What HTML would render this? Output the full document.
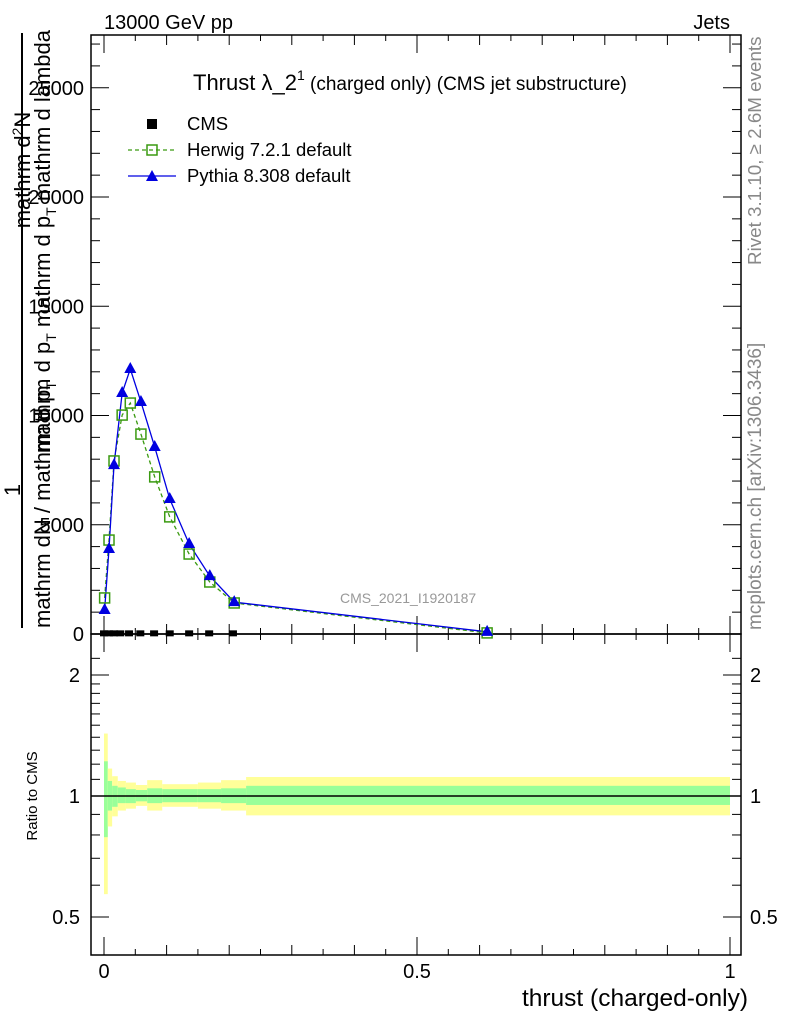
<!DOCTYPE html>
<html><head><meta charset="utf-8"><style>
body{margin:0;background:#fff;width:786px;height:1024px;overflow:hidden}
svg{font-family:"Liberation Sans",sans-serif}
</style></head><body>
<svg id="c" width="786" height="1024" viewBox="0 0 786 1024" xmlns="http://www.w3.org/2000/svg">
<text x="104" y="29" font-size="20">13000 GeV pp</text>
<text x="730" y="29" font-size="20" text-anchor="end">Jets</text>
<text x="193" y="90" font-size="22">Thrust λ_2<tspan font-size="14" dy="-10">1</tspan><tspan font-size="19" dy="10"> (charged only) (CMS jet substructure)</tspan></text>
<text x="340" y="603" font-size="14" fill="#999">CMS_2021_I1920187</text>
<text transform="translate(761,265) rotate(-90)" font-size="18.8" fill="#888">Rivet 3.1.10, ≥ 2.6M events</text>
<text transform="translate(761,630) rotate(-90)" font-size="19" fill="#888">mcplots.cern.ch [arXiv:1306.3436]</text>
<g font-size="22">
<text transform="translate(30,170) rotate(-90)" text-anchor="middle">mathrm d<tspan font-size="14" dy="-8">2</tspan><tspan dy="8">N</tspan></text>
<text transform="translate(20,490) rotate(-90)" text-anchor="middle">1</text>
<line x1="22" y1="33" x2="22" y2="628" stroke="#000" stroke-width="2"/>
<text transform="translate(50,628) rotate(-90)">mathrm dN / mathrm d p<tspan font-size="14" dy="6">T</tspan></text>
<text transform="translate(50,30) rotate(-90)" text-anchor="end">mathrm d p<tspan font-size="14" dy="6">T</tspan><tspan dy="-6"> mathrm d p</tspan><tspan font-size="14" dy="6">T</tspan><tspan dy="-6"> mathrm d lambda</tspan></text>
</g>
<text transform="translate(37,796) rotate(-90)" text-anchor="middle" font-size="15">Ratio to CMS</text>
<text x="748" y="1006" font-size="24.5" text-anchor="end">thrust (charged-only)</text>
<g font-size="18.5">
<rect x="147" y="119" width="10" height="10" fill="#000"/>
<text x="187" y="130">CMS</text>
<line x1="128" y1="150" x2="176" y2="150" stroke="#3a9a10" stroke-dasharray="4,3" stroke-width="1.3"/>
<rect x="147" y="145" width="10" height="10" fill="none" stroke="#3a9a10" stroke-width="1.5"/>
<text x="187" y="156">Herwig 7.2.1 default</text>
<line x1="128" y1="176" x2="176" y2="176" stroke="#0000e0" stroke-width="1.3"/>
<polygon points="152,170 158,181 146,181" fill="#0000e0"/>
<text x="187" y="182">Pythia 8.308 default</text>
</g>
<g id="g"></g>
</svg>
<script>
const xs=[0.001,0.008,0.016,0.029,0.042,0.059,0.081,0.105,0.136,0.169,0.208,0.612];
const pythia=[1100,3890,7730,11030,12130,10620,8560,6180,4120,2650,1460,100];
const herwig=[1650,4300,7920,10020,10570,9150,7190,5360,3660,2380,1420,50];
const cmsX=[0,0.008,0.016,0.026,0.04,0.058,0.08,0.105,0.136,0.168,0.206];
const cmsY=[30,30,30,30,30,30,30,30,30,30,30];
const bandEdges=[0,0.006,0.013,0.022,0.035,0.051,0.069,0.093,0.15,0.187,0.227,1.0];
const yelUp=[1.43,1.17,1.12,1.09,1.08,1.065,1.095,1.07,1.08,1.095,1.115];
const yelDn=[0.57,0.84,0.89,0.92,0.93,0.945,0.92,0.94,0.93,0.92,0.895];
const grnUp=[1.22,1.09,1.06,1.05,1.04,1.035,1.045,1.04,1.04,1.045,1.06];
const grnDn=[0.79,0.92,0.94,0.96,0.96,0.97,0.96,0.965,0.965,0.96,0.95];
const yTicks=[0,5000,10000,15000,20000,25000];
const rTicks=[0.5,1,2];
const xTicks=[0,0.5,1];
const X=v=>104+v*626, Y=v=>634-v*0.02185, R=v=>796-Math.log(v)*174.6;
const NS="http://www.w3.org/2000/svg", g=document.getElementById('g');
function el(t,a){const e=document.createElementNS(NS,t);for(const k in a)e.setAttribute(k,a[k]);g.appendChild(e);return e;}
for(let i=0;i<yelUp.length;i++){
 const x0=X(bandEdges[i]),w=X(bandEdges[i+1])-x0;
 const y=el('rect',{x:x0,y:R(yelUp[i]),width:w,height:R(yelDn[i])-R(yelUp[i]),fill:'#ffff99'});
 
 
 const gr=el('rect',{x:x0,y:R(grnUp[i]),width:w,height:R(grnDn[i])-R(grnUp[i]),fill:'#99ff99'});
 
 
}
el('line',{x1:91,y1:R(1),x2:741,y2:R(1),stroke:'#000','stroke-width':1.5});
el('rect',{x:91,y:35,width:650,height:599,fill:'none',stroke:'#000','stroke-width':1.5});
el('rect',{x:91,y:634,width:650,height:321,fill:'none',stroke:'#000','stroke-width':1.5});
for(let v=0;v<=27000;v+=1000){const L=v%5000==0?18:9;
 el('line',{x1:91,y1:Y(v),x2:91+L,y2:Y(v),stroke:'#000'});el('line',{x1:741,y1:Y(v),x2:741-L,y2:Y(v),stroke:'#000'});}
yTicks.forEach(v=>{const t=el('text',{x:84,y:Y(v)+7,'font-size':20,'text-anchor':'end'});t.textContent=v;
 
 });
[0.5,0.6,0.7,0.8,0.9,1,1.1,1.2,1.3,1.4,1.5,1.6,1.7,1.8,1.9,2,2.2].forEach(v=>{const L=(v==0.5||v==1||v==2)?18:9;
 el('line',{x1:91,y1:R(v),x2:91+L,y2:R(v),stroke:'#000'});el('line',{x1:741,y1:R(v),x2:741-L,y2:R(v),stroke:'#000'});});
rTicks.forEach(v=>{const t=el('text',{x:80,y:R(v)+7,'font-size':20,'text-anchor':'end'});t.textContent=v;
 
 
 const t2=el('text',{x:750,y:R(v)+7,'font-size':20});t2.textContent=v;
 
 });
for(let k=0;k<=20;k++){const v=k*0.05,L=k%10==0?18:(k%2==0?10:6);
 [[634,-1],[955,-1],[35,1],[634,1]].forEach(([y,d])=>el('line',{x1:X(v),y1:y,x2:X(v),y2:y+d*L,stroke:'#000'}));}
xTicks.forEach(v=>{const t=el('text',{x:X(v),y:978,'font-size':20,'text-anchor':'middle'});t.textContent=v;
 
 });
const hp=herwig.map((v,i)=>X(xs[i])+','+Y(v)).join(' ');
const hl=el('polyline',{points:hp,fill:'none',stroke:'#3a9a10','stroke-dasharray':'4,3','stroke-width':1.3});


const pp=pythia.map((v,i)=>X(xs[i])+','+Y(v)).join(' ');
const pl=el('polyline',{points:pp,fill:'none',stroke:'#0000e0','stroke-width':1.3});


herwig.forEach((v,i)=>{const r=el('rect',{x:X(xs[i])-5,y:Y(v)-5,width:10,height:10,fill:'none',stroke:'#3a9a10','stroke-width':1.5});
 
 });
pythia.forEach((v,i)=>{const x=X(xs[i]),y=Y(v);const p=el('polygon',{points:`${x},${y-7} ${x+6},${y+4} ${x-6},${y+4}`,fill:'#0000e0'});
 
 });
cmsX.forEach((v,i)=>{const r=el('rect',{x:X(v)-4,y:Y(cmsY[i])-3,width:8,height:6,fill:'#000'});
 
 });
</script>
</body></html>
